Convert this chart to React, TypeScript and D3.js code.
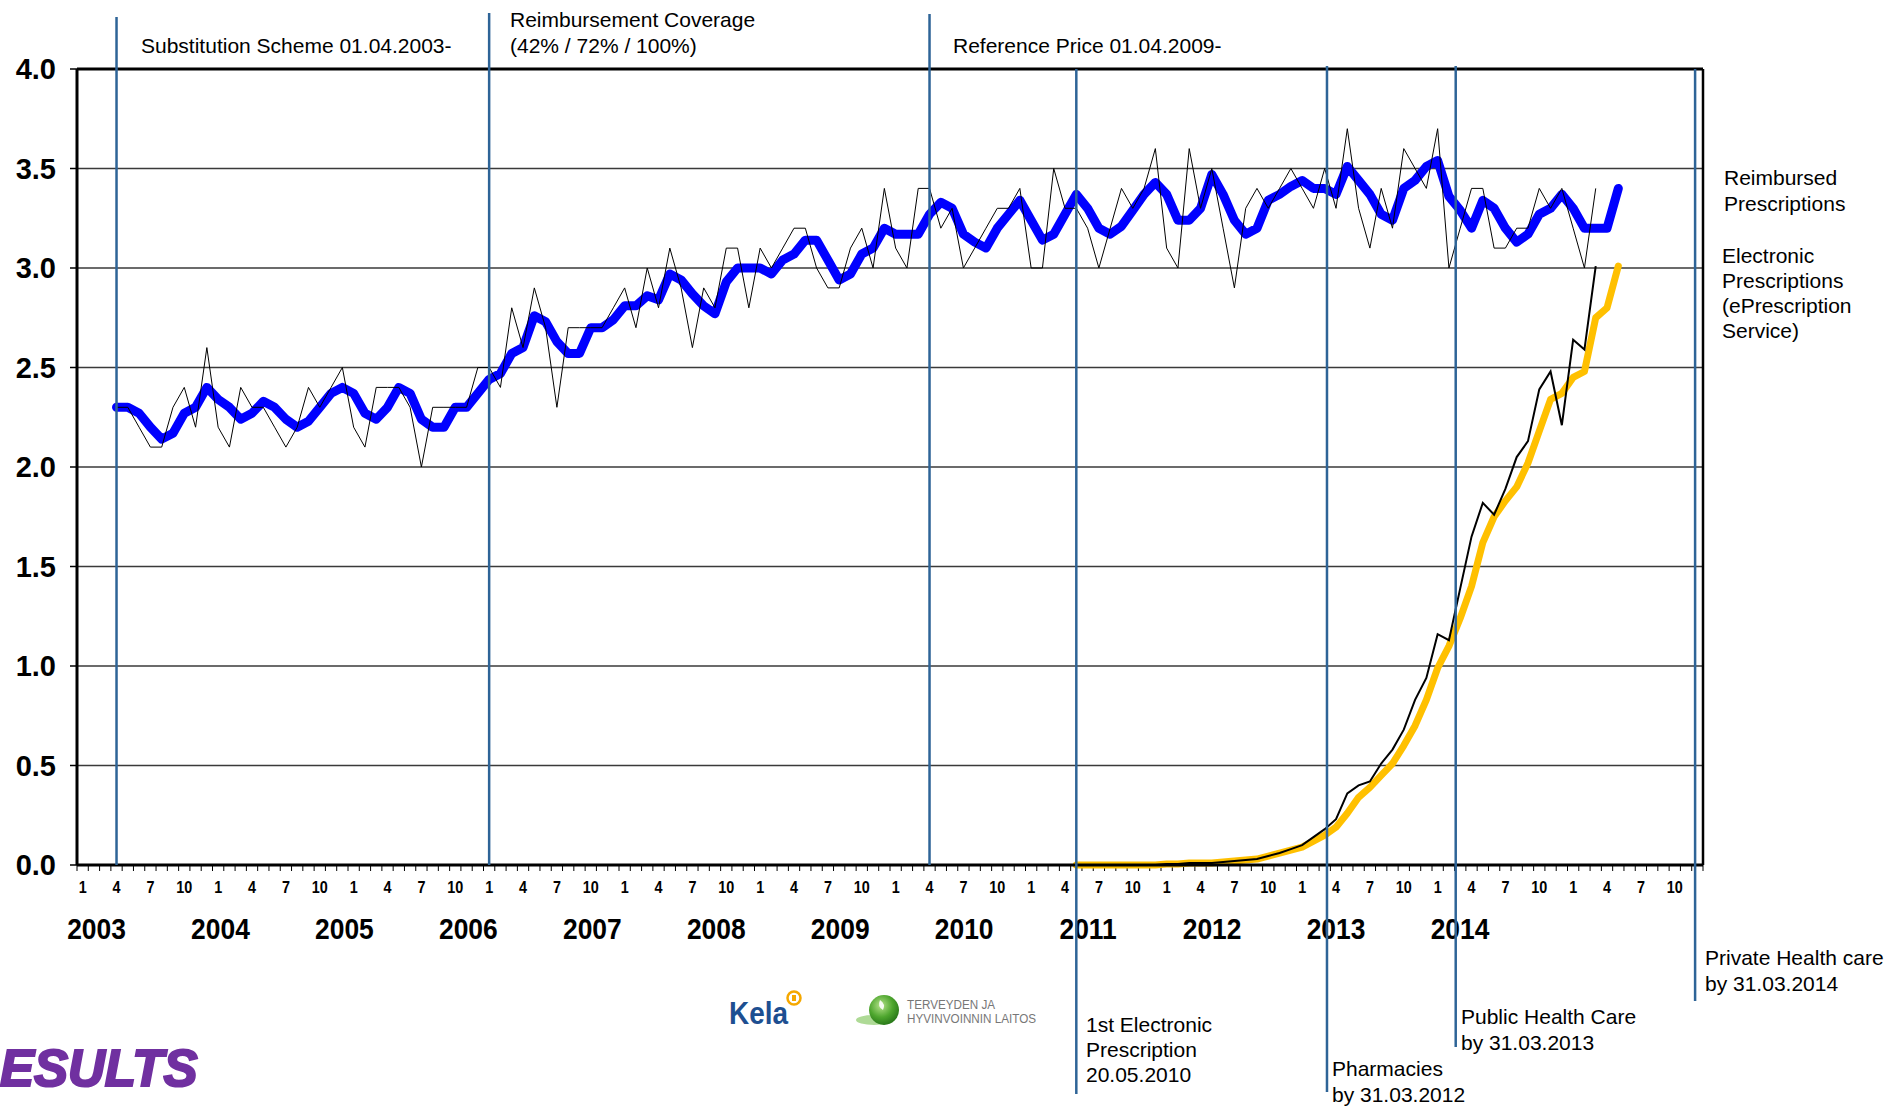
import React from 'react';
import * as d3 from 'd3';

// month index 0 = January 2003, one step per month
const reimbStart = 3; // April 2003
const eRxStart = 88;  // May 2010

// reimbursed prescriptions, monthly (thin black)
const reimbMonthly = [
  2.3, 2.3, 2.2, 2.1, 2.1, 2.3, 2.4, 2.2, 2.6, 2.2,
  2.1, 2.4, 2.3, 2.3, 2.2, 2.1, 2.2, 2.4, 2.3, 2.4,
  2.5, 2.2, 2.1, 2.4, 2.4, 2.4, 2.3, 2.0, 2.3, 2.3,
  2.3, 2.3, 2.5, 2.5, 2.4, 2.8, 2.6, 2.9, 2.7, 2.3,
  2.7, 2.7, 2.7, 2.7, 2.8, 2.9, 2.7, 3.0, 2.8, 3.1,
  2.9, 2.6, 2.9, 2.8, 3.1, 3.1, 2.8, 3.1, 3.0, 3.1,
  3.2, 3.2, 3.0, 2.9, 2.9, 3.1, 3.2, 3.0, 3.4, 3.1,
  3.0, 3.4, 3.4, 3.2, 3.3, 3.0, 3.1, 3.2, 3.3, 3.3,
  3.4, 3.0, 3.0, 3.5, 3.3, 3.3, 3.2, 3.0, 3.2, 3.4,
  3.3, 3.4, 3.6, 3.1, 3.0, 3.6, 3.3, 3.5, 3.2, 2.9,
  3.3, 3.4, 3.3, 3.4, 3.5, 3.4, 3.3, 3.5, 3.3, 3.7,
  3.3, 3.1, 3.4, 3.2, 3.6, 3.5, 3.4, 3.7, 3.0, 3.2,
  3.4, 3.4, 3.1, 3.1, 3.2, 3.2, 3.4, 3.3, 3.4, 3.2,
  3.0, 3.4
];

// reimbursed prescriptions, trend (thick blue)
const reimbTrend = [
  2.30, 2.30, 2.27, 2.20, 2.14, 2.17, 2.27, 2.30, 2.40, 2.34,
  2.30, 2.24, 2.27, 2.33, 2.30, 2.24, 2.20, 2.23, 2.30, 2.37,
  2.40, 2.37, 2.27, 2.24, 2.30, 2.40, 2.37, 2.24, 2.20, 2.20,
  2.30, 2.30, 2.37, 2.44, 2.47, 2.57, 2.60, 2.76, 2.73, 2.63,
  2.57, 2.57, 2.70, 2.70, 2.74, 2.81, 2.81, 2.86, 2.84, 2.97,
  2.94, 2.87, 2.81, 2.77, 2.93, 3.00, 3.00, 3.00, 2.97, 3.04,
  3.07, 3.14, 3.14, 3.04, 2.94, 2.97, 3.07, 3.10, 3.20, 3.17,
  3.17, 3.17, 3.27, 3.33, 3.30, 3.17, 3.13, 3.10, 3.20, 3.27,
  3.34, 3.24, 3.14, 3.17, 3.27, 3.37, 3.30, 3.20, 3.17, 3.21,
  3.29, 3.37, 3.43, 3.37, 3.24, 3.24, 3.30, 3.47, 3.37, 3.24,
  3.17, 3.20, 3.34, 3.37, 3.41, 3.44, 3.40, 3.40, 3.37, 3.51,
  3.44, 3.37, 3.27, 3.24, 3.40, 3.44, 3.51, 3.54, 3.36, 3.29,
  3.20, 3.34, 3.30, 3.20, 3.13, 3.17, 3.27, 3.30, 3.37, 3.30,
  3.20, 3.20, 3.20, 3.40
];

// electronic prescriptions, monthly (black)
const eRxMonthly = [
  0, 0, 0, 0, 0, 0, 0, 0, 0.005, 0.005,
  0.01, 0.01, 0.01, 0.015, 0.02, 0.025, 0.03, 0.045, 0.06, 0.08,
  0.1, 0.14, 0.18, 0.23, 0.36, 0.4, 0.42, 0.51, 0.58, 0.68,
  0.83, 0.94, 1.16, 1.13, 1.39, 1.65, 1.82, 1.76, 1.89, 2.05,
  2.13, 2.39, 2.48, 2.21, 2.64, 2.59, 3.01
];

// electronic prescriptions, trend (yellow)
const eRxTrend = [
  0, 0, 0, 0, 0, 0, 0, 0, 0.005, 0.005,
  0.01, 0.01, 0.01, 0.015, 0.02, 0.025, 0.03, 0.045, 0.06, 0.075,
  0.09, 0.12, 0.15, 0.19, 0.26, 0.34, 0.39, 0.45, 0.51, 0.6,
  0.7, 0.83, 0.99, 1.1, 1.24, 1.4, 1.62, 1.75, 1.83, 1.9,
  2.02, 2.18, 2.34, 2.37, 2.45, 2.48, 2.75, 2.8, 3.01
];

const yTicks = [0, 0.5, 1, 1.5, 2, 2.5, 3, 3.5, 4];
const monthLabels = ['1', '4', '7', '10'];
const years = ['2003', '2004', '2005', '2006', '2007', '2008', '2009', '2010', '2011', '2012', '2013', '2014'];

// reform / rollout markers (month position) and their captions
const eventMonths = [3, 36, 75, 88, 110.2, 121.6, 142.8];
const eventCaptions = [
  ['Substitution Scheme 01.04.2003-'],
  ['Reimbursement Coverage', '(42% / 72% / 100%)'],
  ['Reference Price 01.04.2009-'],
  ['1st Electronic', 'Prescription', '20.05.2010'],
  ['Pharmacies', 'by 31.03.2012'],
  ['Public Health Care', 'by 31.03.2013'],
  ['Private Health care', 'by 31.03.2014']
];
const seriesCaptions = [
  ['Reimbursed', 'Prescriptions'],
  ['Electronic', 'Prescriptions', '(ePrescription', 'Service)']
];

const W = 1892;
const H = 1106;
const left = 77, right = 1703, top = 69, bottom = 865;
const font = '"Liberation Sans", Arial, sans-serif';
const eventColor = '#2E6497';

// where each marker line starts/ends and where its caption sits
const eventLayout = [
  { y1: 17, y2: bottom, tx: 141, ty: [53] },
  { y1: 13, y2: bottom, tx: 510, ty: [27, 53] },
  { y1: 14, y2: bottom, tx: 953, ty: [53] },
  { y1: top, y2: 1094, tx: 1086, ty: [1032, 1057, 1082] },
  { y1: top - 3, y2: 1092, tx: 1332, ty: [1076, 1102] },
  { y1: top - 3, y2: 1047, tx: 1461, ty: [1024, 1050] },
  { y1: top, y2: 1001, tx: 1705, ty: [965, 991] }
];

const App = () => {
  const x = d3.scaleLinear().domain([-0.5, 143.5]).range([left, right]);
  const y = d3.scaleLinear().domain([0, 4]).range([bottom, top]);
  const yearX = d3.scalePoint<string>().domain(years).range([96.5, 1460]);

  const path = (vals: number[], start: number) =>
    d3.line<number>().x((_, i) => x(start + i)).y(d => y(d))(vals) || '';

  const months = d3.range(144);
  const tickBounds = d3.range(145);

  return (
    <div style={{ position: 'absolute', left: 0, top: 0 }}>
      <svg width={W} height={H} style={{ display: 'block', background: '#fff' }} fontFamily={font}>
        {/* grid */}
        {yTicks.filter(t => t > 0 && t < 4).map(t => (
          <line key={t} x1={left} x2={right} y1={y(t)} y2={y(t)} stroke="#3a3a3a" strokeWidth={1.3} />
        ))}

        {/* y ticks + labels */}
        {yTicks.map(t => (
          <g key={'yt' + t}>
            <line x1={left - 7} x2={left} y1={y(t)} y2={y(t)} stroke="#000" strokeWidth={1.5} />
            <text x={56} y={y(t) + 10} textAnchor="end" fontSize={29} fontWeight="bold">{t.toFixed(1)}</text>
          </g>
        ))}

        {/* month ticks */}
        {tickBounds.map(k => (
          <line key={'mt' + k} x1={x(k - 0.5)} x2={x(k - 0.5)} y1={bottom} y2={bottom + 6} stroke="#000" strokeWidth={1} />
        ))}
        {months.filter(m => m % 3 === 0).map(m => (
          <text key={'ml' + m} transform={`translate(${x(m)},${893}) scale(0.9,1)`} textAnchor="middle"
            fontSize={16} fontWeight="bold">{monthLabels[(m % 12) / 3]}</text>
        ))}
        {years.map(yr => (
          <text key={yr} transform={`translate(${yearX(yr)},${939}) scale(0.88,1)`} textAnchor="middle"
            fontSize={30} fontWeight="bold">{yr}</text>
        ))}

        {/* data */}
        <path d={path(reimbTrend, reimbStart)} fill="none" stroke="#0000FF" strokeWidth={9}
          strokeLinejoin="round" strokeLinecap="round" />
        <path d={path(reimbMonthly, reimbStart)} fill="none" stroke="#000" strokeWidth={1} />
        <path d={path(eRxTrend, eRxStart)} fill="none" stroke="#FFC000" strokeWidth={7}
          strokeLinejoin="round" strokeLinecap="round" />
        <path d={path(eRxMonthly, eRxStart)} fill="none" stroke="#000" strokeWidth={2} />

        {/* frame */}
        <line x1={left} x2={right} y1={top} y2={top} stroke="#000" strokeWidth={3} />
        <line x1={left} x2={left} y1={top} y2={bottom} stroke="#000" strokeWidth={3} />
        <line x1={right} x2={right} y1={top} y2={bottom} stroke="#000" strokeWidth={2.5} />
        <line x1={left} x2={right} y1={bottom} y2={bottom} stroke="#000" strokeWidth={3} />

        {/* event markers */}
        {eventMonths.map((m, i) => {
          const L = eventLayout[i];
          return (
            <g key={'ev' + i}>
              <line x1={x(m)} x2={x(m)} y1={L.y1} y2={L.y2} stroke={eventColor} strokeWidth={2.5} />
              {eventCaptions[i].map((c, j) => (
                <text key={j} x={L.tx} y={L.ty[j]} fontSize={21} fill="#000">{c}</text>
              ))}
            </g>
          );
        })}

        {/* series captions on the right */}
        {seriesCaptions[0].map((c, j) => (
          <text key={'s0' + j} x={1724} y={185 + j * 26} fontSize={21}>{c}</text>
        ))}
        {seriesCaptions[1].map((c, j) => (
          <text key={'s1' + j} x={1722} y={263 + j * 25} fontSize={21}>{c}</text>
        ))}

        {/* logos */}
        <g>
          <text transform="translate(729,1024) scale(0.9,1)" fontSize={31} fontWeight="bold" fill="#1D4F91">Kela</text>
          <circle cx={794} cy={998} r={6.5} fill="none" stroke="#F5A800" strokeWidth={2.5} />
          <rect x={792} y={995} width={4} height={6} fill="#F5A800" />
        </g>
        <g>
          <defs>
            <radialGradient id="thl" cx="40%" cy="35%" r="65%">
              <stop offset="0%" stopColor="#B5E28A" />
              <stop offset="60%" stopColor="#4EA62E" />
              <stop offset="100%" stopColor="#2A7A1A" />
            </radialGradient>
          </defs>
          <ellipse cx={874} cy={1020} rx={18} ry={5} fill="#8CCB6A" opacity={0.7} />
          <circle cx={884} cy={1010} r={15} fill="url(#thl)" />
          <path d="M880,1000 q6,4 3,10 q-6,-3 -3,-10z" fill="#fff" opacity={0.9} />
          <text transform="translate(907,1009) scale(0.9,1)" fontSize={13} fill="#777">TERVEYDEN JA</text>
          <text transform="translate(907,1023) scale(0.9,1)" fontSize={13} fill="#777">HYVINVOINNIN LAITOS</text>
        </g>

        {/* section heading fragment at the left edge */}
        <text x={0} y={1086} fontSize={51} fontWeight="bold" fontStyle="italic" fill="#7030A0"
          stroke="#7030A0" strokeWidth={2.2}>ESULTS</text>
      </svg>
    </div>
  );
};

export default App;
